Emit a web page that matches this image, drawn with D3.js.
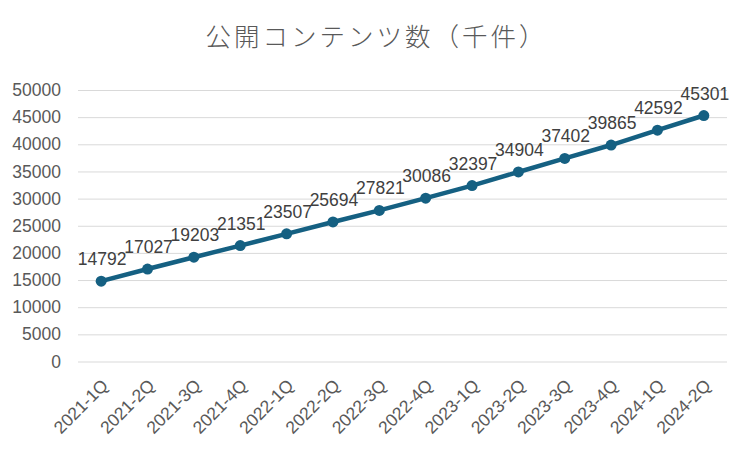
<!DOCTYPE html>
<html>
<head>
<meta charset="utf-8">
<script src="https://cdn.jsdelivr.net/npm/d3@7"></script>
<style>
  html, body { margin: 0; padding: 0; background: #fff; }
  svg { display: block; }
</style>
</head>
<body>
<svg id="chart" width="750" height="449"></svg>
<script>
const title = "公開コンテンツ数（千件）";
const categories = ["2021-1Q","2021-2Q","2021-3Q","2021-4Q","2022-1Q","2022-2Q","2022-3Q","2022-4Q","2023-1Q","2023-2Q","2023-3Q","2023-4Q","2024-1Q","2024-2Q"];
const values = [14792,17027,19203,21351,23507,25694,27821,30086,32397,34904,37402,39865,42592,45301];
const yTicks = [0,5000,10000,15000,20000,25000,30000,35000,40000,45000,50000];

const svg = d3.select("#chart");
const W = 750, H = 449;
const margin = {left: 78, right: 23, top: 90, bottom: 87.5};
const textColor = "#595959";
const lineColor = "#156082";
const latin = "'Liberation Sans', Arial, sans-serif";

svg.append("rect").attr("width", W).attr("height", H).attr("fill", "#fff");

const x = d3.scaleBand().domain(categories).range([margin.left, W - margin.right]).padding(0);
const y = d3.scaleLinear().domain([0, 50000]).range([H - margin.bottom, margin.top]);

// title
svg.append("text")
  .attr("x", 375 + 1.5)
  .attr("y", 46)
  .attr("text-anchor", "middle")
  .attr("font-family", "'Noto Sans CJK JP', sans-serif")
  .attr("font-weight", 300)
  .attr("font-size", 25.5)
  .attr("letter-spacing", 3)
  .attr("fill", textColor)
  .text(title);

// grid
const yAxis = d3.axisLeft(y).tickValues(yTicks).tickSize(-(W - margin.left - margin.right)).tickPadding(17).tickFormat(d3.format("d"));
const gy = svg.append("g").attr("transform", `translate(${margin.left},0)`).call(yAxis);
gy.select(".domain").remove();
gy.selectAll(".tick line").attr("stroke", "#d9d9d9").attr("stroke-width", 1);
gy.selectAll(".tick text").attr("fill", textColor).attr("font-size", 17.5).attr("font-family", latin);

// x axis labels
const xAxis = d3.axisBottom(x).tickSize(0).tickPadding(0);
const gx = svg.append("g").attr("transform", `translate(0,${H - margin.bottom})`).call(xAxis);
gx.select(".domain").remove();
gx.selectAll(".tick text")
  .attr("fill", textColor).attr("font-size", 17.5).attr("font-family", latin)
  .attr("text-anchor", "end")
  .attr("dy", null).attr("y", 0)
  .attr("transform", "translate(8,25) rotate(-45)");

// line
const line = d3.line().x((d, i) => x(categories[i]) + x.bandwidth() / 2).y(d => y(d));
svg.append("path").datum(values)
  .attr("fill", "none").attr("stroke", lineColor).attr("stroke-width", 4.5)
  .attr("stroke-linejoin", "round").attr("stroke-linecap", "round")
  .attr("d", line);

svg.selectAll("circle.pt").data(values).join("circle")
  .attr("class", "pt")
  .attr("cx", (d, i) => x(categories[i]) + x.bandwidth() / 2)
  .attr("cy", d => y(d))
  .attr("r", 5.5)
  .attr("fill", lineColor);

// data labels
svg.selectAll("text.lbl").data(values).join("text")
  .attr("class", "lbl")
  .attr("x", (d, i) => x(categories[i]) + x.bandwidth() / 2 + 1)
  .attr("y", d => y(d) - 16)
  .attr("text-anchor", "middle")
  .attr("font-family", latin)
  .attr("font-size", 17.5)
  .attr("fill", "#404040")
  .text(d => d);
</script>
</body>
</html>
